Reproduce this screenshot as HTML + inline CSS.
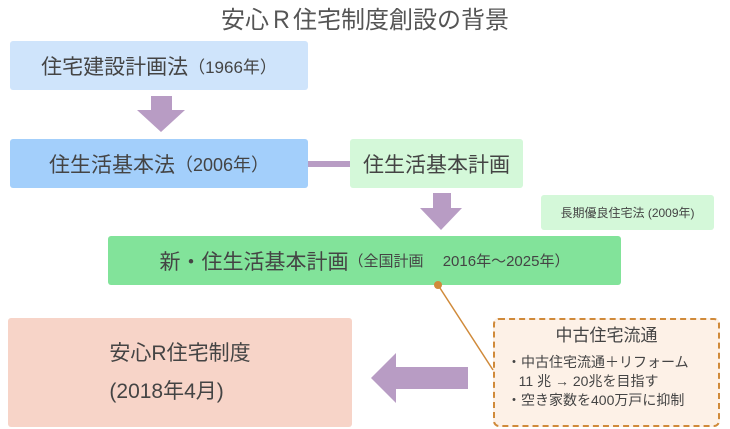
<!DOCTYPE html>
<html><head><meta charset="utf-8"><style>
body{margin:0;width:730px;height:429px;background:#fff;position:relative;overflow:hidden;font-family:"Liberation Sans","Noto Sans CJK JP",sans-serif;color:#444}
div{position:absolute;box-sizing:border-box}
.b{border-radius:3px;display:flex;align-items:center;justify-content:center;white-space:nowrap}
</style></head><body>
<div style="left:0;width:730px;top:0px;text-align:center;font-size:24px;color:#555">安心Ｒ住宅制度創設の背景</div>
<div class="b" style="left:10px;top:41px;width:298px;height:49px;background:#cfe4fb;font-size:21px">住宅建設計画法<span style="font-size:17px">（1966年）</span></div>
<div class="b" style="left:10px;top:139px;width:298px;height:49px;background:#a3cffb;font-size:21px">住生活基本法<span style="font-size:18px">（2006年）</span></div>
<div style="left:308px;top:161px;width:42px;height:6px;background:#b89cc4"></div>
<div class="b" style="left:350px;top:139px;width:173px;height:49px;background:#d4f8d9;font-size:21px">住生活基本計画</div>
<div class="b" style="left:541px;top:195px;width:173px;height:35px;background:#d4f8d9;font-size:12px">長期優良住宅法 (2009年)</div>
<div class="b" style="left:108px;top:236px;width:513px;height:49px;background:#82e39a;font-size:21px">新・住生活基本計画<span style="font-size:15px">（全国計画　 2016年～2025年）</span></div>
<div class="b" style="left:8px;top:318px;width:344px;height:109px;background:#f7d4c8;font-size:21px;flex-direction:column;line-height:38px">安心R住宅制度<br>(2018年4月)</div>
<div style="left:493px;top:318px;width:227px;height:109px;background:#fdf1e7;border:2px dashed #d08a3a;border-radius:6px;font-size:14px;line-height:19px;padding:6px 0 0 12px;white-space:nowrap">
<div style="position:static;text-align:center;font-size:17px;margin:0 0 8px -12px">中古住宅流通</div>
・中古住宅流通＋リフォーム<br>&nbsp;&nbsp;&nbsp;11 兆 → 20兆を目指す<br>・空き家数を400万戸に抑制</div>
<svg style="position:absolute;left:0;top:0" width="730" height="429">
<polygon points="151,96 172,96 172,110 185,110 161,132 137,110 151,110" fill="#b89cc4"/>
<polygon points="433,193 451,193 451,208 462,208 441,230 420,208 433,208" fill="#b89cc4"/>
<polygon points="371,378 396,353 396,367 468,367 468,389 396,389 396,403" fill="#b89cc4"/>
<line x1="438" y1="285" x2="493" y2="370" stroke="#d08a3a" stroke-width="1.5"/>
<circle cx="438" cy="285" r="4" fill="#d08a3a"/>
</svg>
</body></html>
